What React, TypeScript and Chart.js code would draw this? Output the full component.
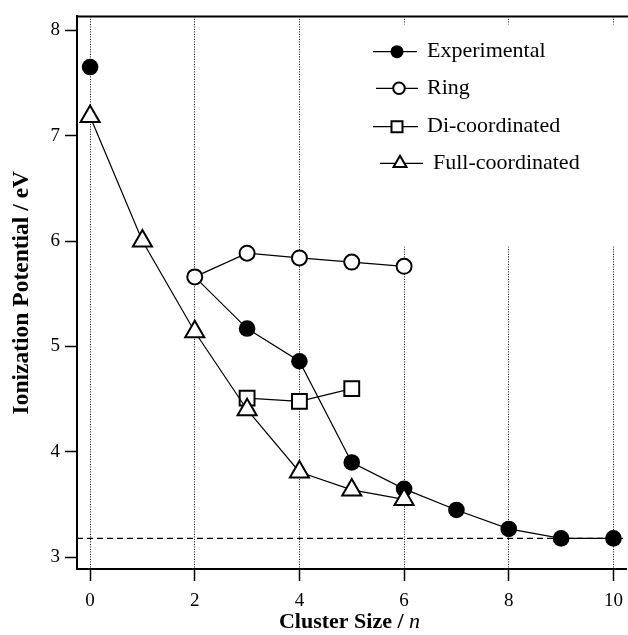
import React, { useEffect, useRef } from "react";
import { Chart, registerables } from "chart.js";

Chart.register(...registerables);

// ---- data ----
const clusterSizes = [0, 1, 2, 3, 4, 5, 6, 7, 8, 9, 10];
const experimental: (number | null)[] = [7.65, null, 5.66, 5.17, 4.86, 3.9, 3.65, 3.45, 3.27, 3.18, 3.18];
const ringSizes = [2, 3, 4, 5, 6];
const ring = [5.66, 5.885, 5.84, 5.8, 5.76];
const diSizes = [3, 4, 5];
const diCoordinated = [4.51, 4.48, 4.6];
const fullSizes = [0, 1, 2, 3, 4, 5, 6];
const fullCoordinated = [7.18, 6.0, 5.14, 4.4, 3.81, 3.64, 3.55];
const referenceLevel = 3.18;
const xTicks = [0, 2, 4, 6, 8, 10];
const yTicks = [3, 4, 5, 6, 7, 8];
const legendLabels = ["Experimental", "Ring", "Di-coordinated", "Full-coordinated"];
const X_MIN = -0.25;
const X_MAX = 10.24;
const Y_MIN = 2.89;
const Y_MAX = 8.13;

const SERIF = "'Liberation Serif', 'Times New Roman', serif";
const BLACK = "#000";

function drawMarker(ctx: CanvasRenderingContext2D, kind: string, x: number, y: number, r: number) {
  ctx.save();
  ctx.lineWidth = 2;
  ctx.strokeStyle = BLACK;
  ctx.beginPath();
  if (kind === "filled") {
    ctx.arc(x, y, r, 0, Math.PI * 2);
    ctx.fillStyle = BLACK;
    ctx.fill();
  } else if (kind === "circle") {
    ctx.arc(x, y, r, 0, Math.PI * 2);
    ctx.fillStyle = "#fff";
    ctx.fill();
    ctx.stroke();
  } else if (kind === "rect") {
    ctx.rect(x - r, y - r, 2 * r, 2 * r);
    ctx.fillStyle = "#fff";
    ctx.fill();
    ctx.stroke();
  } else {
    ctx.moveTo(x, y - r);
    ctx.lineTo(x + r * 0.866, y + r * 0.5);
    ctx.lineTo(x - r * 0.866, y + r * 0.5);
    ctx.closePath();
    ctx.fillStyle = "#fff";
    ctx.fill();
    ctx.stroke();
  }
  ctx.restore();
}

const decorPlugin = {
  id: "decor",
  beforeDraw(chart: any) {
    const ctx = chart.ctx as CanvasRenderingContext2D;
    ctx.save();
    ctx.fillStyle = "#fff";
    ctx.fillRect(0, 0, chart.width, chart.height);
    ctx.restore();
  },
  afterDraw(chart: any) {
    const ctx = chart.ctx as CanvasRenderingContext2D;
    const area = chart.chartArea;
    const xs = chart.scales.x;
    ctx.save();
    // top frame line
    ctx.strokeStyle = BLACK;
    ctx.lineWidth = 2;
    ctx.beginPath();
    ctx.moveTo(area.left, area.top);
    ctx.lineTo(chart.width, area.top);
    ctx.stroke();

    // x tick labels
    ctx.fillStyle = BLACK;
    ctx.font = `19px ${SERIF}`;
    ctx.textAlign = "center";
    ctx.textBaseline = "top";
    xTicks.forEach((v) => {
      ctx.fillText(String(v), xs.getPixelForValue(v), area.bottom + 23);
    });

    // legend box
    ctx.fillStyle = "#fff";
    ctx.fillRect(350, area.top + 8, chart.width - 350, 222);
    const items = [
      { kind: "filled", y: 51.7, x0: 373, x1: 417, mx: 397, r: 6.5, tx: 427 },
      { kind: "circle", y: 88.3, x0: 376, x1: 418, mx: 399, r: 5.8, tx: 427 },
      { kind: "rect", y: 126.7, x0: 373, x1: 418, mx: 397, r: 5.5, tx: 427 },
      { kind: "tri", y: 163.3, x0: 380, x1: 423, mx: 400, r: 7.5, tx: 433 },
    ];
    items.forEach((it, i) => {
      ctx.strokeStyle = BLACK;
      ctx.lineWidth = 1.2;
      ctx.beginPath();
      ctx.moveTo(it.x0, it.y);
      ctx.lineTo(it.x1, it.y);
      ctx.stroke();
      drawMarker(ctx, it.kind, it.mx, it.y, it.r);
      ctx.fillStyle = BLACK;
      ctx.font = `22px ${SERIF}`;
      ctx.textBaseline = "middle";
      ctx.textAlign = "left";
      ctx.fillText(legendLabels[i], it.tx, it.y);
    });

    // x axis title
    ctx.font = `bold 22px ${SERIF}`;
    const main = "Cluster Size / ";
    const wMain = ctx.measureText(main).width;
    ctx.font = `italic 22px ${SERIF}`;
    const wN = ctx.measureText("n").width;
    const cx = (area.left + area.right) / 2 - 2;
    const startX = cx - (wMain + wN) / 2;
    ctx.textBaseline = "alphabetic";
    ctx.textAlign = "left";
    ctx.font = `bold 22px ${SERIF}`;
    ctx.fillText(main, startX, 628);
    ctx.font = `italic 22px ${SERIF}`;
    ctx.fillText("n", startX + wMain, 628);

    // y axis title
    ctx.translate(22, (area.top + area.bottom) / 2);
    ctx.rotate(-Math.PI / 2);
    ctx.font = `bold 23.5px ${SERIF}`;
    ctx.textAlign = "center";
    ctx.textBaseline = "middle";
    ctx.fillText("Ionization Potential / eV", 0, 0);
    ctx.restore();
  },
};

export default function App() {
  const ref = useRef<HTMLCanvasElement>(null);
  useEffect(() => {
    document.body.style.margin = "0";
    const canvas = ref.current;
    if (!canvas) return;
    const pts = (xs: number[], ys: (number | null)[]) => xs.map((x, i) => ({ x, y: ys[i] }));
    const common = {
      borderColor: BLACK,
      borderWidth: 1.2,
      pointBorderColor: BLACK,
      pointBorderWidth: 2,
      pointBackgroundColor: "#fff",
      tension: 0,
      fill: false,
    };
    const chart = new Chart(canvas, {
      type: "line",
      data: {
        datasets: [
          {
            ...common,
            label: legendLabels[3],
            data: pts(fullSizes, fullCoordinated),
            order: 0,
            pointStyle: "triangle",
            pointRadius: 11,
          },
          {
            ...common,
            label: legendLabels[1],
            data: pts(ringSizes, ring),
            order: 1,
            pointStyle: "circle",
            pointRadius: 7.5,
          },
          {
            ...common,
            label: legendLabels[2],
            data: pts(diSizes, diCoordinated),
            order: 2,
            pointStyle: "rect",
            pointRadius: 10.5,
          },
          {
            ...common,
            label: legendLabels[0],
            data: pts(clusterSizes, experimental),
            order: 3,
            pointStyle: "circle",
            pointRadius: experimental.map((_, i) => (clusterSizes[i] === ringSizes[0] ? 0 : 8.3)),
            pointBackgroundColor: BLACK,
            pointBorderWidth: 0,
            spanGaps: false,
          },
          {
            ...common,
            label: "reference",
            data: [
              { x: X_MIN, y: referenceLevel },
              { x: X_MAX, y: referenceLevel },
            ],
            order: 4,
            borderDash: [6, 4],
            borderWidth: 1.2,
            pointRadius: 0,
          },
        ] as any,
      },
      options: {
        responsive: false,
        animation: false,
        devicePixelRatio: 1,
        layout: { autoPadding: false, padding: { top: 16, right: 2, left: 0, bottom: 0 } },
        plugins: { legend: { display: false }, tooltip: { enabled: false } },
        scales: {
          x: {
            type: "linear",
            min: X_MIN,
            max: X_MAX,
            afterBuildTicks: (s: any) => {
              s.ticks = xTicks.map((v) => ({ value: v }));
            },
            afterFit: (s: any) => {
              s.height = 66;
            },
            ticks: {
              display: false,
            },
            grid: {
              color: BLACK,
              lineWidth: 1,
              drawTicks: true,
              tickLength: 12,
              tickColor: BLACK,
              tickWidth: 1.5,
              tickBorderDash: [],
            } as any,
            border: { display: true, color: BLACK, width: 2, dash: [1, 1.5] },
          },
          y: {
            type: "linear",
            min: Y_MIN,
            max: Y_MAX,
            afterBuildTicks: (s: any) => {
              s.ticks = yTicks.map((v) => ({ value: v }));
            },
            afterFit: (s: any) => {
              s.width = 77;
            },
            ticks: {
              color: BLACK,
              font: { family: SERIF, size: 19 },
              padding: 5,
            },
            grid: {
              drawOnChartArea: false,
              drawTicks: true,
              tickLength: 12,
              tickColor: BLACK,
              tickWidth: 1.5,
            },
            border: { display: true, color: BLACK, width: 2 },
          },
        },
      } as any,
      plugins: [decorPlugin],
    });
    return () => chart.destroy();
  }, []);
  return <canvas ref={ref} width={628} height={635} style={{ display: "block", width: 628, height: 635 }} />;
}
